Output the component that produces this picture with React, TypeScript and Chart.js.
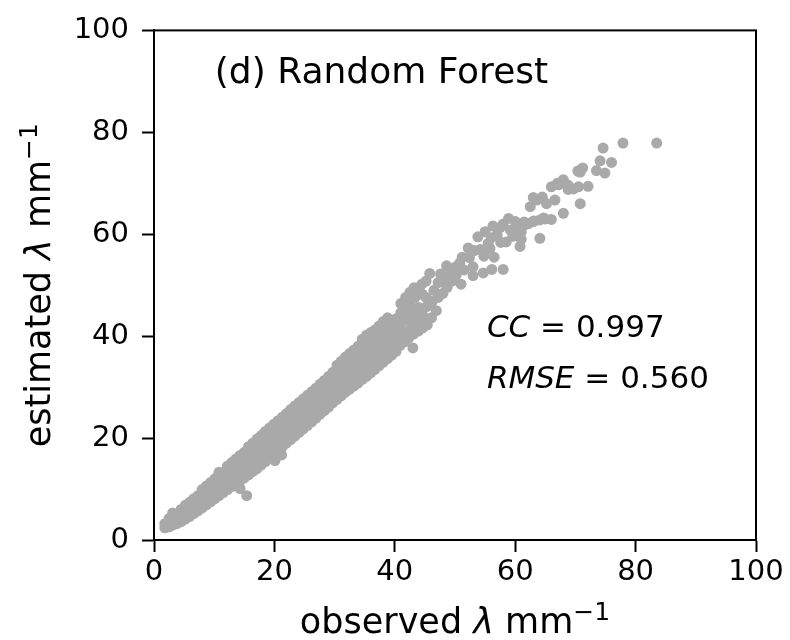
import React, { useEffect, useRef } from 'react';
import { Chart, registerables } from 'chart.js';

Chart.register(...registerables);

// ---- axis settings ----
const axisMin = 0;
const axisMax = 100;
const tickStep = 20;

// ---- text ----
const panelTitle = '(d) Random Forest';
const ccValue = '0.997';
const rmseValue = '0.560';

// ---- data: dense band, read column by column (observed x, estimated y values) ----
const bandLowCols: [number, number[]][] = [
  [1.8, [2.4, 3.2]],
  [2.5, [2.6, 3.5, 4.2]],
  [3.1, [2.9, 3.8, 4.7, 5.3]],
  [3.8, [3.2, 4.1, 5.0]],
  [4.5, [3.6, 4.6, 5.5, 6.0]],
  [5.2, [4.1, 5.1, 6.0, 6.8]],
  [5.9, [4.6, 5.6, 6.6, 7.4]],
  [6.6, [5.2, 6.2, 7.2, 8.1]],
  [7.3, [5.7, 6.7, 7.7, 8.7]],
  [8.0, [6.3, 7.3, 8.3, 9.3, 9.9]],
  [8.7, [6.9, 7.9, 8.9, 9.9, 10.6]],
  [9.4, [7.5, 8.5, 9.5, 10.5, 11.3]],
  [10.1, [8.1, 9.1, 10.1, 11.1, 12.0]],
  [10.8, [8.7, 9.7, 10.7, 11.7, 12.7, 13.3]],
  [11.5, [9.3, 10.3, 11.3, 12.3, 13.3]],
  [12.2, [9.9, 10.9, 11.9, 12.9, 13.9, 14.5]],
  [12.9, [10.5, 11.5, 12.5, 13.5, 14.5, 15.2]],
  [13.6, [11.1, 12.1, 13.1, 14.1, 15.1, 15.9]],
  [14.3, [11.6, 12.6, 13.6, 14.6, 15.6, 16.6]],
];

const bandMidCols: [number, number[]][] = [
  [15.0, [12.2, 13.2, 14.2, 15.2, 16.2, 17.2]],
  [15.7, [12.8, 13.8, 14.8, 15.8, 16.8, 17.8, 18.3]],
  [16.4, [13.4, 14.4, 15.4, 16.4, 17.4, 18.4, 19.0]],
  [17.1, [14.0, 15.0, 16.0, 17.0, 18.0, 19.0, 19.8]],
  [17.8, [14.7, 15.7, 16.7, 17.7, 18.7, 19.7, 20.5]],
  [18.5, [15.4, 16.4, 17.4, 18.4, 19.4, 20.4, 21.3]],
  [19.2, [16.1, 17.1, 18.1, 19.1, 20.1, 21.1, 22.0]],
  [19.9, [16.8, 17.8, 18.8, 19.8, 20.8, 21.8, 22.7]],
  [20.6, [17.5, 18.5, 19.5, 20.5, 21.5, 22.5, 23.4]],
  [21.3, [18.3, 19.3, 20.3, 21.3, 22.3, 23.3, 24.1]],
  [22.0, [19.0, 20.0, 21.0, 22.0, 23.0, 24.0, 24.8]],
  [22.7, [19.7, 20.7, 21.7, 22.7, 23.7, 24.7, 25.6]],
  [23.4, [20.4, 21.4, 22.4, 23.4, 24.4, 25.4, 26.3]],
  [24.1, [21.1, 22.1, 23.1, 24.1, 25.1, 26.1, 27.0]],
  [24.8, [21.8, 22.8, 23.8, 24.8, 25.8, 26.8, 27.7]],
  [25.5, [22.5, 23.5, 24.5, 25.5, 26.5, 27.5, 28.4]],
  [26.2, [23.2, 24.2, 25.2, 26.2, 27.2, 28.2, 29.1]],
  [26.9, [23.9, 24.9, 25.9, 26.9, 27.9, 28.9, 29.8]],
  [27.6, [24.7, 25.7, 26.7, 27.7, 28.7, 29.7, 30.6]],
  [28.3, [25.4, 26.4, 27.4, 28.4, 29.4, 30.4, 31.3]],
  [29.0, [26.1, 27.1, 28.1, 29.1, 30.1, 31.1, 32.1]],
  [29.7, [26.9, 27.9, 28.9, 29.9, 30.9, 31.9, 32.9]],
];

const bandHighCols: [number, number[]][] = [
  [30.4, [27.6, 28.6, 29.6, 30.6, 31.6, 32.6, 33.6, 34.3]],
  [31.1, [28.3, 29.3, 30.3, 31.3, 32.3, 33.3, 34.3, 35.1]],
  [31.8, [29.0, 30.0, 31.0, 32.0, 33.0, 34.0, 35.0, 35.9]],
  [32.5, [29.6, 30.6, 31.6, 32.6, 33.6, 34.6, 35.6, 36.6]],
  [33.2, [30.2, 31.2, 32.2, 33.2, 34.2, 35.2, 36.2, 37.3]],
  [33.9, [30.8, 31.8, 32.8, 33.8, 34.8, 35.8, 36.8, 38.0]],
  [34.6, [31.5, 32.5, 33.5, 34.5, 35.5, 36.5, 37.5, 38.5, 39.4]],
  [35.3, [32.1, 33.1, 34.1, 35.1, 36.1, 37.1, 38.1, 39.1, 40.2]],
  [36.0, [32.8, 33.8, 34.8, 35.8, 36.8, 37.8, 38.8, 39.8, 40.7]],
  [36.7, [33.5, 34.5, 35.5, 36.5, 37.5, 38.5, 39.5, 40.5, 41.2]],
  [37.4, [34.2, 35.2, 36.2, 37.2, 38.2, 39.2, 40.2, 41.2, 42.0]],
  [38.1, [34.9, 35.9, 36.9, 37.9, 38.9, 39.9, 40.9, 41.9, 42.9]],
  [38.8, [35.6, 36.6, 37.6, 38.6, 39.6, 40.6, 41.6, 42.6, 43.6]],
  [39.5, [36.3, 37.3, 38.3, 39.3, 40.3, 41.3, 42.3, 43.1]],
  [40.2, [37.0, 38.0, 39.0, 40.0, 41.0, 42.0, 43.4]],
];

// ---- data: sparser upper part (observed, estimated) ----
const upperPoints: [number, number][] = [
  [40.9, 38.2], [40.9, 39.6], [41.0, 41.0], [41.0, 42.6], [41.0, 44.6], [41.0, 46.4],
  [41.6, 38.9], [41.6, 40.3], [41.7, 43.2], [41.8, 45.2], [41.8, 47.6],
  [42.3, 39.6], [42.4, 41.3], [42.4, 44.0], [42.5, 46.4], [42.5, 48.6],
  [43.1, 40.4], [43.2, 42.4], [43.3, 44.7], [43.3, 47.5], [43.2, 49.5],
  [43.9, 41.0], [44.0, 43.2], [44.0, 45.6], [44.0, 49.0],
  [44.6, 41.6], [44.7, 44.0], [44.6, 48.2], [44.5, 50.2],
  [45.4, 42.2], [45.3, 45.8], [45.2, 47.6], [45.2, 50.8],
  [45.8, 52.3], [46.1, 43.6], [46.2, 46.8], [46.5, 49.0],
  [46.9, 45.0], [47.2, 47.6], [47.2, 50.5], [47.6, 52.2],
  [48.0, 48.4], [48.0, 51.2], [48.6, 53.8], [48.7, 49.6],
  [49.3, 52.5], [49.5, 50.8], [50.0, 53.5], [50.2, 52.0],
  [50.8, 54.4], [51.0, 50.2], [51.5, 53.0], [51.2, 55.5],
  [52.2, 57.3], [52.4, 55.4], [53.0, 51.9], [53.0, 53.6],
  [53.2, 56.8], [53.8, 59.5], [54.2, 57.0], [54.7, 52.4], [54.8, 55.7],
  [55.0, 60.5], [55.5, 58.2], [55.8, 57.2], [56.1, 53.1], [56.0, 59.3],
  [56.3, 61.6], [56.5, 55.5], [57.0, 59.8], [57.5, 61.3], [57.6, 58.4], [58.0, 53.1],
  [58.0, 62.0], [58.5, 58.5], [58.9, 63.1], [59.2, 60.8], [59.6, 59.6],
  [60.0, 62.5], [60.2, 61.2], [60.8, 57.6], [61.0, 59.0], [61.0, 60.4],
  [61.5, 61.8], [61.5, 62.4], [62.2, 62.1], [62.5, 65.4], [63.0, 62.5],
  [63.0, 67.2], [63.1, 62.6], [63.6, 66.7], [64.1, 62.8], [64.1, 59.2],
  [64.5, 67.3], [64.7, 63.2], [65.0, 63.0], [65.2, 66.0], [66.0, 62.9],
  [66.0, 69.3], [66.6, 66.7], [67.0, 70.0], [67.2, 69.7], [68.0, 64.1],
  [68.0, 70.7], [68.8, 68.8], [68.8, 69.6], [69.7, 68.9], [70.5, 69.3],
  [70.8, 66.0], [70.4, 72.4], [70.8, 72.2], [71.2, 73.0], [72.1, 69.4],
  [73.5, 72.5], [74.1, 74.4], [74.9, 72.0], [74.6, 76.9], [76.0, 74.1],
  [77.9, 77.9], [83.5, 77.9],
];

// ---- data: isolated outliers below the band ----
const outlierPoints: [number, number][] = [
  [14.3, 10.1], [15.4, 8.7], [20.1, 15.6], [21.2, 16.7], [43.0, 37.7],
];

type Seg = { t: string; italic?: boolean; scale?: number; rise?: number };

function drawRich(
  ctx: CanvasRenderingContext2D,
  segs: Seg[],
  size: number,
  x: number,
  y: number,
  align: 'left' | 'center',
) {
  const fontFor = (s: Seg) =>
    `${s.italic ? 'italic ' : ''}${Math.round(size * (s.scale ?? 1))}px "DejaVu Sans"`;
  const widths = segs.map((s) => {
    ctx.font = fontFor(s);
    return ctx.measureText(s.t).width;
  });
  const total = widths.reduce((a, b) => a + b, 0);
  let cx = align === 'center' ? x - total / 2 : x;
  ctx.textAlign = 'left';
  ctx.textBaseline = 'alphabetic';
  segs.forEach((s, i) => {
    ctx.font = fontFor(s);
    ctx.fillText(s.t, cx, y - (s.rise ?? 0) * size);
    cx += widths[i];
  });
}

function flattenCols(cols: [number, number[]][]) {
  return cols.flatMap(([x, ys]) => ys.map((y) => ({ x, y })));
}

export default function App() {
  const ref = useRef<HTMLCanvasElement>(null);

  useEffect(() => {
    if (!ref.current) return;
    const points = [
      ...flattenCols(bandLowCols),
      ...flattenCols(bandMidCols),
      ...flattenCols(bandHighCols),
      ...upperPoints.map(([x, y]) => ({ x, y })),
      ...outlierPoints.map(([x, y]) => ({ x, y })),
    ];

    const annotPlugin = {
      id: 'annot',
      afterDraw(chart: any) {
        const { ctx, chartArea: a } = chart;
        const w = a.right - a.left;
        const h = a.bottom - a.top;
        ctx.save();
        ctx.strokeStyle = '#000';
        ctx.lineWidth = 2;
        ctx.strokeRect(a.left, a.top, w, h);
        ctx.fillStyle = '#000';

        // panel title inside axes
        drawRich(ctx, [{ t: panelTitle }], 36, a.left + 0.101 * w, a.top + 53, 'left');

        // statistics
        drawRich(
          ctx,
          [{ t: 'CC', italic: true }, { t: ' = ' }, { t: ccValue }],
          31,
          a.left + 0.553 * w,
          a.top + 307,
          'left',
        );
        drawRich(
          ctx,
          [{ t: 'RMSE', italic: true }, { t: ' = ' }, { t: rmseValue }],
          31,
          a.left + 0.553 * w,
          a.top + 358,
          'left',
        );

        const labelSegs = (first: string): Seg[] => [
          { t: first + ' ' },
          { t: 'λ', italic: true },
          { t: ' mm' },
          { t: '−1', scale: 0.7, rise: 0.37 },
        ];

        // x axis label
        drawRich(ctx, labelSegs('observed'), 35, (a.left + a.right) / 2, 633, 'center');

        // y axis label (rotated)
        ctx.save();
        ctx.translate(50, (a.top + a.bottom) / 2);
        ctx.rotate(-Math.PI / 2);
        drawRich(ctx, labelSegs('estimated'), 35, 0, 0, 'center');
        ctx.restore();

        ctx.restore();
      },
    };

    const tickFont = { family: 'DejaVu Sans', size: 29 };
    const gridOpts = {
      display: true,
      drawOnChartArea: false,
      drawTicks: true,
      tickLength: 12,
      tickWidth: 2,
      tickColor: '#000',
    };

    const chart = new Chart(ref.current, {
      type: 'scatter',
      data: {
        datasets: [
          {
            data: points,
            backgroundColor: '#a9a9a9',
            borderWidth: 0,
            pointRadius: 5.5,
            pointHoverRadius: 5.5,
          },
        ],
      },
      options: {
        animation: false,
        responsive: false,
        maintainAspectRatio: false,
        devicePixelRatio: 1,
        events: [],
        layout: { padding: { left: 0, right: 34, top: 25, bottom: 0 } },
        plugins: { legend: { display: false }, tooltip: { enabled: false } },
        scales: {
          x: {
            type: 'linear',
            position: 'bottom',
            min: axisMin,
            max: axisMax,
            afterFit: (s: any) => {
              s.height = 100;
            },
            ticks: { stepSize: tickStep, color: '#000', font: tickFont, padding: 3, maxRotation: 0 },
            grid: gridOpts,
            border: { display: true, color: '#000', width: 2 },
          },
          y: {
            type: 'linear',
            position: 'left',
            min: axisMin,
            max: axisMax,
            afterFit: (s: any) => {
              s.width = 154;
            },
            ticks: { stepSize: tickStep, color: '#000', font: tickFont, padding: 13 },
            grid: gridOpts,
            border: { display: true, color: '#000', width: 2 },
          },
        },
      },
      plugins: [annotPlugin],
    });
    return () => chart.destroy();
  }, []);

  return (
    <div style={{ position: 'absolute', left: 0, top: 0, width: 790, height: 640, background: '#fff' }}>
      <canvas ref={ref} width={790} height={640} style={{ width: 790, height: 640, display: 'block' }} />
    </div>
  );
}
